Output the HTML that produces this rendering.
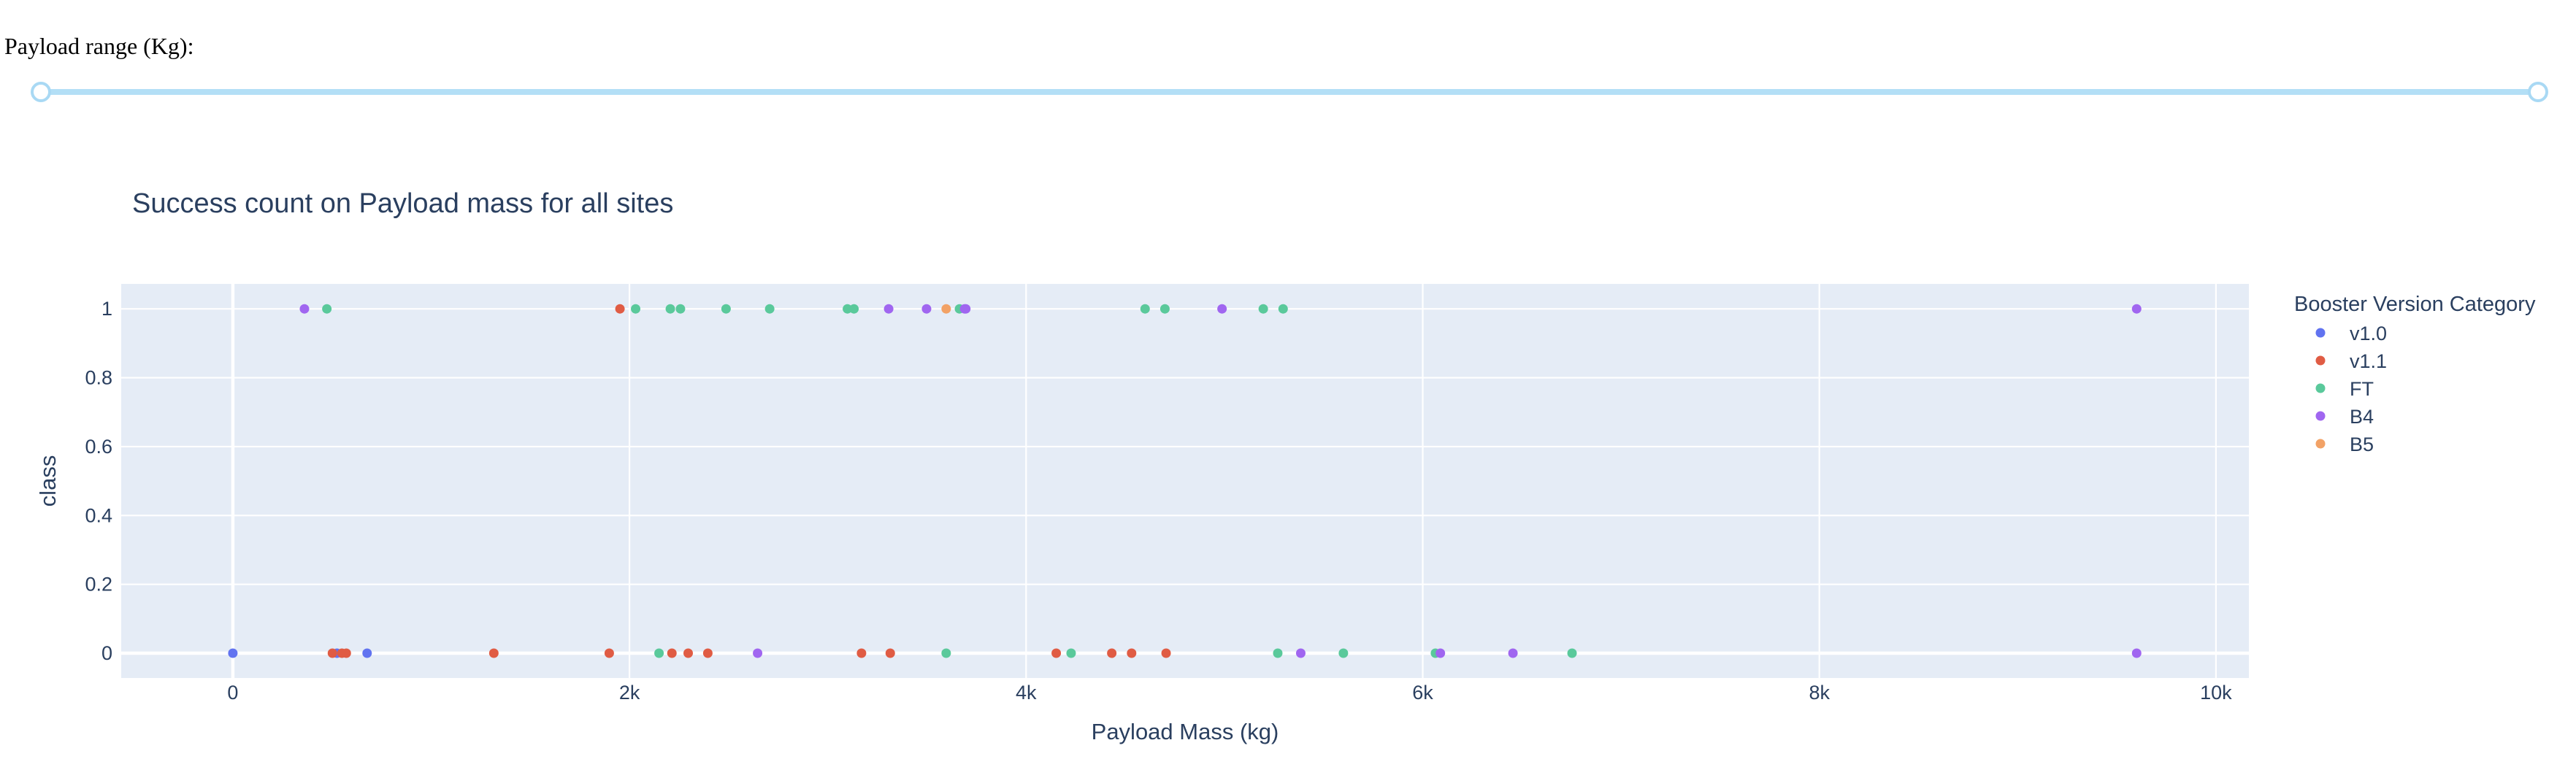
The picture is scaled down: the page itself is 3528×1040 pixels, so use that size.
<!DOCTYPE html>
<html><head><meta charset="utf-8">
<style>
html,body{margin:0;padding:0;background:#fff;width:3528px;height:1040px;overflow:hidden}
svg{display:block}
.lbl{font-family:"Liberation Serif",serif;font-size:32px;fill:#000}
.t{font-family:"Liberation Sans",sans-serif;fill:#2a3f5f}
</style></head>
<body>
<svg id="chart" width="3528" height="1040" xmlns="http://www.w3.org/2000/svg">
  <text class="lbl" x="6" y="74">Payload range (Kg):</text>
  <g>
    <rect x="56" y="122" width="3420" height="8" fill="#b3dff6"/>
    <circle cx="56" cy="126" r="12" fill="#fff" stroke="#a9d9f4" stroke-width="4"/>
    <circle cx="3476" cy="126" r="12" fill="#fff" stroke="#a9d9f4" stroke-width="4"/>
  </g>
  <text class="t" x="181" y="291" font-size="38">Success count on Payload mass for all sites</text>
  <rect x="166" y="389" width="2914" height="540" fill="#E5ECF6"/>
  <g id="grid"></g>
  <g id="marks"></g>
  <g id="ticks"></g>
  <text class="t" x="1623" y="1013" font-size="31" text-anchor="middle">Payload Mass (kg)</text>
  <text class="t" transform="translate(76,659) rotate(-90)" font-size="31" text-anchor="middle">class</text>
  <g id="legend">
    <text class="t" x="3142" y="426" font-size="29">Booster Version Category</text>
  </g>
</svg>
<script>
const categories = ["v1.0","v1.1","FT","B4","B5"];
const colors = ["#6173f0","#e05c44","#5ac99b","#a066f0","#f2a266"];
const xTicks = [0,2000,4000,6000,8000,10000];
const xTickLabels = ["0","2k","4k","6k","8k","10k"];
const yTicks = [0,0.2,0.4,0.6,0.8,1];
const yTickLabels = ["0","0.2","0.4","0.6","0.8","1"];
const v10Payload = [0,525,677];
const v10Class = [0,0,0];
const v11Payload = [1952,502,550,572,1316,1898,2214,2296,2395,3170,3315,4152,4432,4532,4706];
const v11Class = [1,0,0,0,0,0,0,0,0,0,0,0,0,0,0];
const ftPayload = [474,2031,2206,2257,2487,2707,3099,3132,3664,4600,4700,5196,5296,2149,3597,4227,5269,5600,6064,6753];
const ftClass = [1,1,1,1,1,1,1,1,1,1,1,1,1,0,0,0,0,0,0,0];
const b4Payload = [361,3307,3498,3690,3696,4988,9600,2646,5385,6089,6455,9600];
const b4Class = [1,1,1,1,1,1,1,0,0,0,0,0];
const b5Payload = [3597];
const b5Class = [1];

const NS="http://www.w3.org/2000/svg";
const X0=166,X1=3080,Y0=389,Y1=929;
const xMin=-563,xMax=10166,yMin=-0.072,yMax=1.0725;
function sx(v){return X0+(v-xMin)/(xMax-xMin)*(X1-X0);}
function sy(v){return Y1-(v-yMin)/(yMax-yMin)*(Y1-Y0);}
function mk(tag,attrs,parent){const e=document.createElementNS(NS,tag);for(const k in attrs)e.setAttribute(k,attrs[k]);parent.appendChild(e);return e;}
const grid=document.getElementById('grid'),ticks=document.getElementById('ticks'),marks=document.getElementById('marks'),legend=document.getElementById('legend');
xTicks.forEach((t,i)=>{
  const l=mk('line',{x1:sx(t),x2:sx(t),y1:Y0,y2:Y1,stroke:'#fff','stroke-width':t===0?4.5:2.2},grid);
  
  
  const tx=mk('text',{x:sx(t),y:958,'font-size':27,'text-anchor':'middle',class:'t'},ticks);
  tx.textContent=xTickLabels[i];
  
  
});
yTicks.forEach((t,i)=>{
  const l=mk('line',{x1:X0,x2:X1,y1:sy(t),y2:sy(t),stroke:'#fff','stroke-width':t===0?4.5:2.2},grid);
  
  
  const tx=mk('text',{x:154,y:sy(t)+9,'font-size':27,'text-anchor':'end',class:'t'},ticks);
  tx.textContent=yTickLabels[i];
  
  
});
const series=[[v10Payload,v10Class],[v11Payload,v11Class],[ftPayload,ftClass],[b4Payload,b4Class],[b5Payload,b5Class]];
series.forEach((s,ci)=>{
  s[0].forEach((p,j)=>{
    const c=mk('circle',{cx:sx(p),cy:sy(s[1][j]),r:6.5,fill:colors[ci]},marks);
    
    
  });
  const ly=456+ci*38;
  const g=mk('g',{},legend);
  
  
  mk('circle',{cx:3178,cy:ly,r:6.5,fill:colors[ci]},g);
  const tx=mk('text',{x:3218,y:ly+10,'font-size':27,class:'t'},g);
  tx.textContent=categories[ci];
});
</script>
</body></html>
